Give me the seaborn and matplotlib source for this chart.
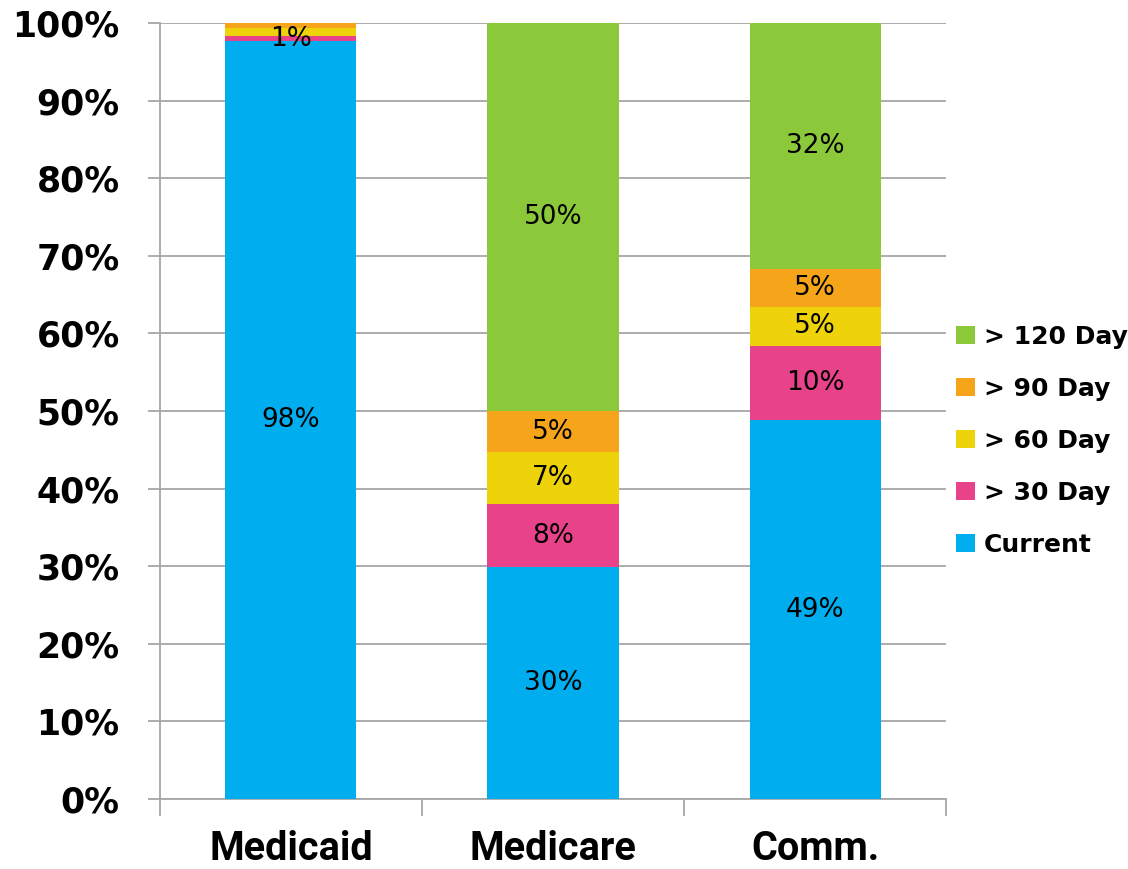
import matplotlib
matplotlib.use("Agg")
import matplotlib.pyplot as plt
from matplotlib.font_manager import FontProperties
from matplotlib.patches import Patch
from matplotlib.ticker import FixedLocator, MultipleLocator, PercentFormatter
import numpy as np
import pandas as pd
import seaborn as sns

# Accounts receivable aging mix by payer (percent of balance)
payers = ["Medicaid", "Medicare", "Comm."]
series = ["Current", "> 30 Day", "> 60 Day", "> 90 Day", "> 120 Day"]
current = [97.7, 29.9, 48.8]
over_30 = [0.6, 8.1, 9.6]
over_60 = [1.1, 6.7, 5.0]
over_90 = [0.6, 5.3, 4.9]
over_120 = [0.0, 50.0, 31.7]
colors = ["#00AEEF", "#E8428A", "#EFD30A", "#F6A51B", "#8CC93A"]
# thin Medicaid slivers whose labels would pile on top of each other
unlabeled = {("Medicaid", "> 60 Day"), ("Medicaid", "> 90 Day"),
             ("Medicaid", "> 120 Day")}

values = [current, over_30, over_60, over_90, over_120]

sns.set_theme(style="white")
plt.rcParams["font.family"] = ["DejaVu Sans"]
plt.rcParams["text.color"] = "black"

fig = plt.figure(figsize=(11.28, 8.69), dpi=100)
ax = fig.add_axes([0.1418, 0.0806, 0.6969, 0.8929])

bottom = np.zeros(len(payers))
for name, vals, col in zip(series, values, colors):
    df = pd.DataFrame({"payer": payers, "pct": vals})
    sns.barplot(data=df, x="payer", y="pct", order=payers, color=col,
                width=0.5, bottom=bottom, ax=ax, saturation=1,
                edgecolor="none", linewidth=0, zorder=3)
    for i, v in enumerate(vals):
        if v > 0 and (payers[i], name) not in unlabeled:
            ax.text(i, bottom[i] + v / 2, f"{v:.0f}%", ha="center",
                    va="center", fontsize=19, color="black", zorder=5)
    bottom = bottom + np.array(vals)

ax.set_xlim(-0.5, 2.5)
ax.set_ylim(0, 100)
ax.set_xlabel("")
ax.set_ylabel("")

ax.yaxis.set_major_locator(MultipleLocator(10))
ax.yaxis.set_major_formatter(PercentFormatter(decimals=0))
ax.grid(axis="y", color="#A6A6A6", linewidth=1.3, zorder=0)
ax.set_axisbelow(True)

for s in ["top", "right"]:
    ax.spines[s].set_visible(False)
for s in ["left", "bottom"]:
    ax.spines[s].set_color("#A6A6A6")
    ax.spines[s].set_linewidth(1.3)

ax.tick_params(axis="y", which="major", left=True, length=9, width=1.3,
               color="#A6A6A6", pad=20, labelcolor="black")
for lbl in ax.get_yticklabels():
    lbl.set_fontproperties(FontProperties(family="DejaVu Sans",
                                          weight="bold", size=25))

# category labels without ticks; boundary ticks drawn as minor ticks
ax.tick_params(axis="x", which="major", bottom=False, pad=16,
               labelcolor="black")
ax.xaxis.set_minor_locator(FixedLocator([-0.5, 0.5, 1.5, 2.5]))
ax.tick_params(axis="x", which="minor", bottom=True, length=12, width=1.3,
               color="#A6A6A6")
for lbl in ax.get_xticklabels():
    lbl.set_fontproperties(FontProperties(family=["Roboto", "DejaVu Sans"],
                                          weight="bold", size=28.5))

handles = [Patch(facecolor=c, edgecolor="none", label=n)
           for n, c in zip(series, colors)][::-1]
leg = fig.legend(handles=handles, loc="center left",
                 bbox_to_anchor=(0.839, 0.493), frameon=False,
                 prop={"size": 18, "weight": "bold"},
                 handlelength=0.75, handleheight=0.75, handletextpad=0.35,
                 labelspacing=1.12, borderaxespad=0)
for t in leg.get_texts():
    t.set_color("black")

fig.savefig("out.png", dpi=100)
